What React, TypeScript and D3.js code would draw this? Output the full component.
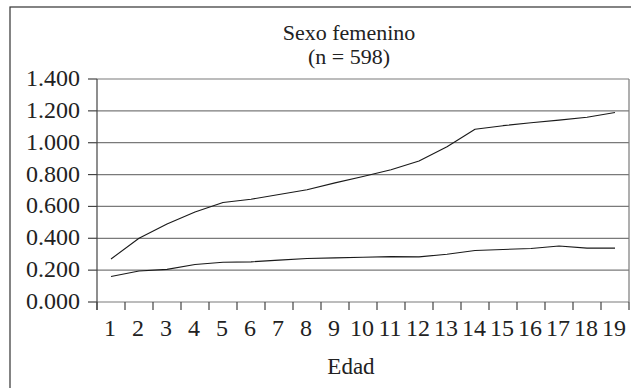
import React from "react";
import * as d3 from "d3";

// Edad (años)
const ages: number[] = [1, 2, 3, 4, 5, 6, 7, 8, 9, 10, 11, 12, 13, 14, 15, 16, 17, 18, 19];
// Serie superior
const upperSeries: number[] = [0.27, 0.40, 0.49, 0.565, 0.625, 0.645, 0.675, 0.705, 0.748, 0.788, 0.83, 0.885, 0.975, 1.085, 1.107, 1.125, 1.142, 1.16, 1.19];
// Serie inferior
const lowerSeries: number[] = [0.16, 0.195, 0.205, 0.235, 0.25, 0.252, 0.263, 0.273, 0.277, 0.281, 0.285, 0.283, 0.30, 0.323, 0.33, 0.336, 0.352, 0.338, 0.338];
const yTicks: number[] = [0, 0.2, 0.4, 0.6, 0.8, 1.0, 1.2, 1.4];

const titleLines: string[] = ["Sexo femenino", "(n = 598)"];
const xAxisTitle = "Edad";

const W = 631;
const H = 388;
const FONT = "'Liberation Serif', 'Times New Roman', serif";

export default function App() {
  const left = 97;
  const right = 629;
  const top = 79;
  const bottom = 302;

  const x = d3.scaleBand<number>().domain(ages).range([left, right]).padding(0);
  const y = d3.scaleLinear().domain([0, 1.4]).range([bottom, top]);
  const fmt = d3.format(".3f");

  const line = d3
    .line<number>()
    .x((_, i) => (x(ages[i]) as number) + x.bandwidth() / 2)
    .y((d) => y(d))
    .curve(d3.curveLinear);

  const boundaries = ages.map((a) => x(a) as number).concat([right]);

  return (
    <svg
      width={W}
      height={H}
      style={{ position: "absolute", left: 0, top: 0, background: "#fff" }}
      fontFamily={FONT}
    >
      {/* marco exterior */}
      <rect x={10} y={7} width={W + 20} height={H + 20} fill="none" stroke="#333" strokeWidth={1.2} />

      {/* título */}
      <text x={349} y={40} textAnchor="middle" fontSize={22} fill="#222">
        {titleLines[0]}
      </text>
      <text x={349} y={64} textAnchor="middle" fontSize={22} fill="#222">
        {titleLines[1]}
      </text>

      {/* cuadrícula */}
      {yTicks.map((t) => (
        <line key={"g" + t} x1={left} x2={right} y1={y(t)} y2={y(t)} stroke="#7a7a7a" strokeWidth={1.2} />
      ))}
      <line x1={right} x2={right} y1={top} y2={bottom} stroke="#7a7a7a" strokeWidth={1.2} />

      {/* eje Y */}
      <line x1={left} x2={left} y1={top} y2={bottom + 8} stroke="#444" strokeWidth={1.2} />
      {yTicks.map((t) => (
        <g key={"y" + t}>
          <line x1={left - 9} x2={left} y1={y(t)} y2={y(t)} stroke="#444" strokeWidth={1.2} />
          <text x={80} y={y(t) + 7} textAnchor="end" fontSize={24} fill="#222">
            {fmt(t)}
          </text>
        </g>
      ))}

      {/* eje X */}
      {boundaries.map((b, i) => (
        <line key={"xt" + i} x1={b} x2={b} y1={bottom} y2={bottom + 8} stroke="#444" strokeWidth={1.2} />
      ))}
      {ages.map((a) => (
        <text
          key={"xl" + a}
          x={(x(a) as number) + x.bandwidth() / 2 - 1}
          y={336}
          textAnchor="middle"
          fontSize={24}
          fill="#222"
        >
          {a}
        </text>
      ))}
      <text x={351} y={374} textAnchor="middle" fontSize={23} fill="#222">
        {xAxisTitle}
      </text>

      {/* series */}
      <path d={line(upperSeries) || ""} fill="none" stroke="#1a1a1a" strokeWidth={1.1} strokeLinejoin="round" />
      <path d={line(lowerSeries) || ""} fill="none" stroke="#1a1a1a" strokeWidth={1.1} strokeLinejoin="round" />
    </svg>
  );
}
